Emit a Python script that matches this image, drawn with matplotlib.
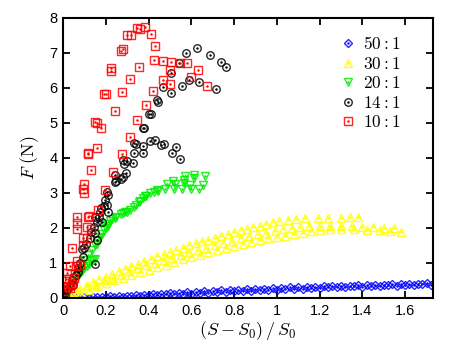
import matplotlib
matplotlib.use("Agg")
import matplotlib.pyplot as plt
import numpy as np

plt.rcParams['font.family'] = ['Liberation Sans', 'DejaVu Sans']
plt.rcParams['mathtext.fontset'] = 'cm'

labels = ["50 : 1", "30 : 1", "20 : 1", "14 : 1", "10 : 1"]

# 50:1 (blue diamonds)
blue_x = [0.02, 0.06, 0.1, 0.14, 0.18, 0.22, 0.26, 0.3, 0.34, 0.38, 0.42, 0.46, 0.5, 0.54, 0.58, 0.62,
          0.66, 0.7, 0.74, 0.78, 0.82, 0.86, 0.9, 0.94, 0.98, 1.02, 1.06, 1.1, 1.14, 1.18, 1.22, 1.26,
          1.3, 1.34, 1.38, 1.42, 1.46, 1.5, 1.54, 1.58, 1.62, 1.66, 1.7,
          0.04, 0.12, 0.2, 0.28, 0.36, 0.44, 0.52, 0.6, 0.68, 0.76, 0.84, 0.92, 1.0, 1.08, 1.16, 1.24,
          1.32, 1.4, 1.48, 1.56, 1.64, 1.72,
          0.08, 0.16, 0.24, 0.32, 0.4, 0.48, 0.56, 0.64, 0.72, 0.8, 0.88, 0.96, 1.04, 1.12, 1.2, 1.28,
          1.36, 1.44, 1.52, 1.6, 1.68]
blue_y = [0.0, 0.01, 0.02, 0.03, 0.04, 0.05, 0.06, 0.07, 0.08, 0.09, 0.1, 0.12, 0.13, 0.15, 0.16, 0.18,
          0.19, 0.2, 0.22, 0.23, 0.24, 0.25, 0.26, 0.27, 0.28, 0.29, 0.3, 0.31, 0.32, 0.32, 0.33, 0.34,
          0.35, 0.35, 0.36, 0.37, 0.38, 0.38, 0.39, 0.4, 0.4, 0.41, 0.42,
          0.0, 0.01, 0.02, 0.04, 0.06, 0.08, 0.1, 0.12, 0.15, 0.17, 0.2, 0.22, 0.24, 0.26, 0.28, 0.3,
          0.31, 0.32, 0.34, 0.35, 0.36, 0.37,
          0.01, 0.02, 0.04, 0.05, 0.08, 0.1, 0.12, 0.14, 0.17, 0.19, 0.21, 0.24, 0.26, 0.27, 0.29, 0.31,
          0.33, 0.34, 0.36, 0.38, 0.39]

# 30:1 (yellow triangles up)
yellow_x = [0.02, 0.05, 0.08, 0.11, 0.14, 0.17, 0.2, 0.23, 0.26, 0.29, 0.32, 0.35, 0.38, 0.41, 0.44,
            0.47, 0.5, 0.53, 0.56, 0.59, 0.62, 0.65, 0.68, 0.71, 0.74, 0.77, 0.8, 0.83, 0.86, 0.89,
            0.92, 0.95, 0.98, 1.01, 1.05, 1.09, 1.13, 1.19, 1.24, 1.3, 1.34, 1.38,
            0.03, 0.07, 0.11, 0.15, 0.19, 0.23, 0.27, 0.31, 0.35, 0.39, 0.43, 0.47, 0.51, 0.55, 0.59,
            0.63, 0.67, 0.71, 0.75, 0.79, 0.83, 0.87, 0.91, 0.95, 0.99, 1.03, 1.07, 1.11, 1.15, 1.2,
            1.25, 1.3, 1.35, 1.4, 1.45, 1.5, 1.55,
            0.04, 0.08, 0.12, 0.16, 0.2, 0.24, 0.28, 0.32, 0.36, 0.4, 0.44, 0.48, 0.52, 0.56, 0.6,
            0.64, 0.68, 0.72, 0.76, 0.8, 0.84, 0.88, 0.92, 0.96, 1.0, 1.04, 1.08, 1.12, 1.16, 1.2,
            1.25, 1.3, 1.36, 1.42, 1.48, 1.53, 1.58]
yellow_y = [0.06, 0.17, 0.27, 0.36, 0.45, 0.53, 0.6, 0.68, 0.76, 0.83, 0.9, 0.98, 1.05, 1.12, 1.19,
            1.26, 1.32, 1.38, 1.44, 1.5, 1.56, 1.62, 1.67, 1.72, 1.78, 1.83, 1.88, 1.93, 1.98, 2.03,
            2.07, 2.12, 2.16, 2.2, 2.24, 2.26, 2.28, 2.29, 2.29, 2.29, 2.3, 2.3,
            0.08, 0.2, 0.3, 0.4, 0.5, 0.58, 0.67, 0.76, 0.85, 0.93, 1.0, 1.08, 1.15, 1.22, 1.3,
            1.37, 1.44, 1.5, 1.57, 1.63, 1.7, 1.76, 1.82, 1.87, 1.92, 1.96, 2.0, 2.03, 2.05, 2.07,
            2.07, 2.06, 2.05, 2.03, 2.02, 2.0, 1.99,
            0.05, 0.15, 0.24, 0.33, 0.42, 0.5, 0.58, 0.66, 0.74, 0.8, 0.88, 0.94, 1.02, 1.1, 1.17,
            1.24, 1.3, 1.36, 1.42, 1.48, 1.54, 1.6, 1.65, 1.7, 1.74, 1.78, 1.83, 1.87, 1.91, 1.94,
            1.96, 1.97, 1.97, 1.95, 1.93, 1.91, 1.89]

# 20:1 (green triangles down)
green_x = [0.01, 0.02, 0.03, 0.04, 0.05, 0.056, 0.065, 0.075, 0.09, 0.1, 0.117, 0.135, 0.15, 0.165,
           0.18, 0.19, 0.205, 0.22, 0.243, 0.27, 0.3, 0.313, 0.33, 0.34, 0.355, 0.36, 0.374, 0.383,
           0.39, 0.407, 0.425, 0.44, 0.444, 0.477, 0.486, 0.514, 0.519, 0.523, 0.556, 0.565, 0.565,
           0.57, 0.593, 0.598, 0.612, 0.612, 0.636, 0.654, 0.664,
           0.06, 0.08, 0.1, 0.12, 0.14, 0.15, 0.03, 0.045, 0.07, 0.09, 0.11, 0.13,
           0.16, 0.175, 0.2, 0.21, 0.23, 0.25, 0.28, 0.29]
green_y = [0.05, 0.15, 0.25, 0.37, 0.48, 0.57, 0.68, 0.8, 0.94, 1.09, 1.23, 1.38, 1.5, 1.65,
           1.83, 1.95, 2.1, 2.2, 2.29, 2.4, 2.45, 2.5, 2.6, 2.66, 2.74, 2.78, 2.86, 2.9,
           2.92, 3.0, 3.02, 3.08, 3.06, 3.12, 3.26, 3.34, 3.11, 3.26, 3.11, 3.37, 3.29,
           3.49, 3.23, 3.11, 3.51, 3.43, 3.11, 3.23, 3.49,
           0.5, 0.7, 0.85, 0.98, 1.08, 1.1, 0.2, 0.35, 0.62, 0.78, 0.92, 1.05,
           1.55, 1.75, 2.0, 2.05, 2.25, 2.32, 2.42, 2.45]

# 14:1 (black circles)
black_x = [0.626, 0.575, 0.687, 0.738, 0.76, 0.54, 0.505, 0.59, 0.636, 0.555, 0.467, 0.715, 0.505,
           0.44, 0.445, 0.40, 0.41, 0.375, 0.378, 0.33, 0.34, 0.375, 0.407, 0.43, 0.46, 0.47, 0.528,
           0.51, 0.547, 0.375, 0.33, 0.28, 0.3, 0.285, 0.325, 0.295, 0.243,
           0.27, 0.28, 0.245, 0.25, 0.205, 0.21, 0.196, 0.205, 0.19, 0.178, 0.21, 0.173, 0.15, 0.17,
           0.16, 0.18, 0.145, 0.15, 0.13, 0.158, 0.126, 0.107, 0.1, 0.09, 0.093, 0.15, 0.08, 0.07,
           0.068, 0.06, 0.043, 0.045, 0.02, 0.005, 0.01, 0.0]
black_y = [7.13, 6.99, 6.94, 6.74, 6.6, 6.71, 6.42, 6.22, 6.16, 6.07, 6.04, 5.97, 5.85,
           5.65, 5.6, 5.25, 5.25, 4.85, 4.87, 4.43, 4.4, 4.35, 4.49, 4.51, 4.37, 4.4, 4.32,
           4.15, 3.96, 4.15, 4.13, 3.94, 3.92, 3.83, 3.86, 3.57, 3.51,
           3.4, 3.45, 3.3, 3.33, 3.03, 2.94, 2.8, 2.65, 2.63, 2.57, 2.45, 2.46, 2.3, 2.3,
           2.17, 2.17, 2.03, 1.85, 1.88, 1.65, 1.71, 1.54, 1.44, 1.4, 1.17, 0.97, 1.0, 0.85,
           0.75, 0.66, 0.5, 0.37, 0.25, 0.15, 0.05, 0.03]

# 10:1 (red squares)
red_x = [0.383, 0.36, 0.345, 0.318, 0.3, 0.41, 0.43, 0.28, 0.27, 0.224, 0.224, 0.425, 0.467, 0.505,
         0.547, 0.58, 0.50, 0.356, 0.313, 0.467, 0.50, 0.598, 0.63, 0.673, 0.42, 0.277, 0.19, 0.2,
         0.243, 0.388, 0.345, 0.15, 0.16, 0.177, 0.313, 0.277, 0.158, 0.118, 0.118, 0.13, 0.232,
         0.098, 0.095, 0.1, 0.197, 0.163, 0.065, 0.065, 0.065, 0.115, 0.12, 0.112, 0.13, 0.093,
         0.112, 0.093, 0.042, 0.065, 0.06, 0.08, 0.033, 0.02, 0.015, 0.03, 0.05, 0.025, 0.032,
         0.04, 0.01]
red_y = [7.74, 7.69, 7.72, 7.51, 7.52, 7.54, 7.2, 7.11, 7.06, 6.56, 6.49, 6.8, 6.78, 6.74,
         6.71, 6.72, 6.5, 6.6, 6.25, 6.23, 6.1, 6.3, 6.5, 6.06, 5.9, 5.88, 5.83, 5.84,
         5.35, 5.5, 5.08, 5.03, 5.0, 4.87, 4.61, 4.12, 4.28, 4.14, 4.1, 3.66, 3.6,
         3.26, 3.1, 3.0, 3.08, 2.5, 2.3, 2.14, 1.98, 2.32, 2.33, 2.04, 1.97, 1.71,
         1.7, 1.5, 1.43, 1.06, 0.92, 0.94, 0.91, 0.7, 0.55, 0.55, 0.56, 0.35, 0.28,
         0.4, 0.2]

fig = plt.figure(figsize=(4.58, 3.5), dpi=100)
ax = fig.add_axes([0.1376, 0.1486, 0.8078, 0.8])

series = [
    (blue_x, blue_y, 'D', '#0000ff', 4.3),
    (yellow_x, yellow_y, '^', '#ffff00', 5.6),
    (green_x, green_y, 'v', '#00ee00', 5.6),
    (black_x, black_y, 'o', '#000000', 5.4),
    (red_x, red_y, 's', '#ff0000', 5.8),
]

handles = []
for (xs, ys, m, c, ms) in series:
    h1, = ax.plot(xs, ys, linestyle='none', marker=m, markersize=ms, markerfacecolor='none',
                  markeredgecolor=c, markeredgewidth=1.0, alpha=0.85)
    h2, = ax.plot(xs, ys, linestyle='none', marker='.', markersize=1.5, color=c)
    handles.append((h1, h2))

ax.set_xlim(0, 1.73)
ax.set_ylim(0, 8)
ax.set_xticks(np.arange(0, 1.61, 0.2))
ax.set_xticklabels(['0', '0.2', '0.4', '0.6', '0.8', '1', '1.2', '1.4', '1.6'])
ax.set_yticks(range(0, 9))
ax.tick_params(direction='in', top=True, right=True, length=5, width=1.3, labelsize=10.5, pad=4)
for s in ax.spines.values():
    s.set_linewidth(1.5)

ax.set_xlabel(r'$(S-S_0)\,/\,S_0$', fontsize=13, labelpad=1)
ax.set_ylabel(r'$F\ \mathrm{(N)}$', fontsize=13, labelpad=6)

leg = ax.legend(handles, [r'$50:1$', r'$30:1$', r'$20:1$', r'$14:1$', r'$10:1$'],
                loc='upper right', frameon=False, fontsize=12.5, handlelength=0.8,
                handletextpad=0.5, labelspacing=0.2, borderaxespad=0.6,
                bbox_to_anchor=(0.96, 1.0))

fig.savefig('out.png', dpi=100)
